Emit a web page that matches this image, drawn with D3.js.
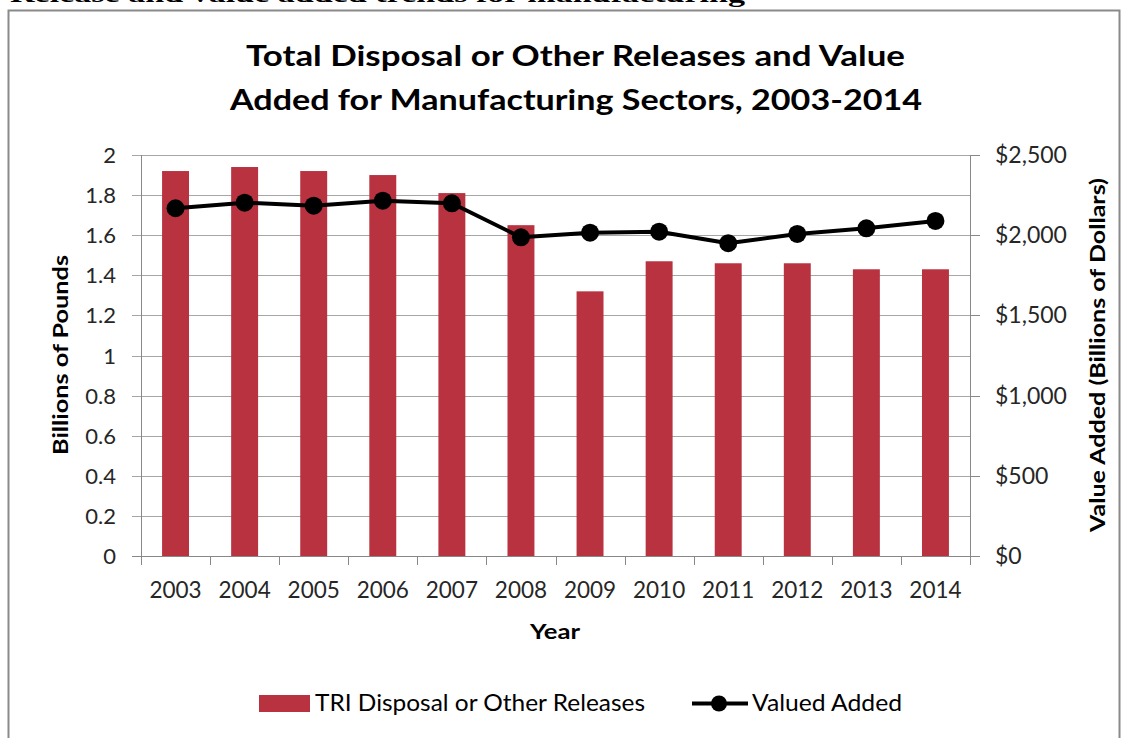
<!DOCTYPE html>
<html><head><meta charset="utf-8">
<script src="https://cdn.jsdelivr.net/npm/d3@7"></script>
<style>body{margin:0;background:#fff}svg{display:block}text{font-family:Lato,"Open Sans",sans-serif}</style>
</head><body>
<script>
const years = ["2003","2004","2005","2006","2007","2008","2009","2010","2011","2012","2013","2014"];
const releases = [1.92,1.94,1.92,1.90,1.81,1.65,1.32,1.47,1.46,1.46,1.43,1.43];
const valueAdded = [2168,2203,2184,2215,2199,1987,2016,2022,1950,2008,2043,2089];
const leftTicks = [0,0.2,0.4,0.6,0.8,1,1.2,1.4,1.6,1.8,2];
const rightTicks = [0,500,1000,1500,2000,2500];

const W=1129,H=738;
const svg=d3.select("body").append("svg").attr("width",W).attr("height",H);
const L=141,R=970,T=155,B=556;
const x=d3.scaleBand().domain(years).range([L,R]).paddingInner(0.61).paddingOuter(0.305);
const yL=d3.scaleLinear().domain([0,2]).range([B,T]);
const yR=d3.scaleLinear().domain([0,2500]).range([B,T]);
const grid="#A6A6A6", axisC="#888";

function fit(sel,w){const n=sel.node();const c=n.getComputedTextLength();if(Math.abs(c-w)>1)sel.attr("textLength",w).attr("lengthAdjust","spacingAndGlyphs");return sel;}

// top cut-off caption
fit(svg.append("text").attr("x",10).attr("y",2).style("font-family","'Liberation Serif',serif").attr("font-weight","bold").attr("font-size",24).attr("fill","#000").text("Release and value added trends for manufacturing"),735);
// border
svg.append("rect").attr("x",8.5).attr("y",10.5).attr("width",1111).attr("height",740).attr("fill","none").attr("stroke","#8a8a8a").attr("stroke-width",2);

// title
fit(svg.append("text").attr("x",246).attr("y",66).attr("font-weight","bold").attr("font-size",28).attr("fill","#000").text("Total Disposal or Other Releases and Value"),659);
fit(svg.append("text").attr("x",230).attr("y",110).attr("font-weight","bold").attr("font-size",28).attr("fill","#000").text("Added for Manufacturing Sectors, 2003-2014"),692);

// gridlines
svg.append("g").selectAll("line").data(leftTicks).join("line")
  .attr("x1",L-9).attr("x2",R).attr("y1",d=>Math.round(yL(d))+0.5).attr("y2",d=>Math.round(yL(d))+0.5)
  .attr("stroke",d=>d===0?axisC:grid).attr("stroke-width",1);
svg.append("line").attr("x1",L+0.5).attr("x2",L+0.5).attr("y1",T).attr("y2",B).attr("stroke",axisC);
svg.append("line").attr("x1",R+0.5).attr("x2",R+0.5).attr("y1",T).attr("y2",B).attr("stroke",axisC);
svg.append("g").selectAll("line").data(rightTicks).join("line")
  .attr("x1",R).attr("x2",R+10).attr("y1",d=>Math.round(yR(d))+0.5).attr("y2",d=>Math.round(yR(d))+0.5).attr("stroke",axisC);
const step=x.step();
const bounds=years.map(y=>x(y)+x.bandwidth()/2-step/2).concat([x(years[years.length-1])+x.bandwidth()/2+step/2]);
svg.append("g").selectAll("line").data(bounds).join("line")
  .attr("x1",d=>Math.round(d)+0.5).attr("x2",d=>Math.round(d)+0.5).attr("y1",B).attr("y2",B+9).attr("stroke",axisC);

// bars
svg.append("g").selectAll("rect").data(years).join("rect")
  .attr("x",y=>x(y)).attr("width",x.bandwidth())
  .attr("y",(y,i)=>yL(releases[i])).attr("height",(y,i)=>B-yL(releases[i]))
  .attr("fill","#B83240");

// line
const pts=years.map((y,i)=>[x(y)+x.bandwidth()/2,yR(valueAdded[i])]);
svg.append("path").attr("d",d3.line()(pts)).attr("fill","none").attr("stroke","#000").attr("stroke-width",4).attr("stroke-linejoin","round");
svg.append("g").selectAll("circle").data(pts).join("circle").attr("cx",d=>d[0]).attr("cy",d=>d[1]).attr("r",9).attr("fill","#000");

// tick labels
const tc="#262626";
svg.append("g").selectAll("text").data(leftTicks).join("text")
  .attr("x",116).attr("y",d=>yL(d)+8).attr("text-anchor","end").attr("font-size",22).attr("fill",tc)
  .text(d=>d3.format("")(+d.toFixed(1)));
svg.append("g").selectAll("text").data(rightTicks).join("text")
  .attr("x",995).attr("y",d=>yR(d)+8).attr("font-size",23).attr("fill",tc)
  .text(d=>"$"+d3.format(",")(d));
svg.append("g").selectAll("text").data(years).join("text")
  .attr("x",y=>x(y)+x.bandwidth()/2).attr("y",598).attr("text-anchor","middle").attr("font-size",22.5).attr("fill",tc).text(y=>y);

// axis titles
fit(svg.append("text").attr("transform","translate(68,355) rotate(-90)").attr("text-anchor","middle").attr("font-weight","bold").attr("font-size",21).attr("fill","#000").text("Billions of Pounds"),200);
fit(svg.append("text").attr("transform","translate(1105,355) rotate(-90)").attr("text-anchor","middle").attr("font-weight","bold").attr("font-size",21).attr("fill","#000").text("Value Added (Billions of Dollars)"),354);
fit(svg.append("text").attr("x",555).attr("y",639).attr("text-anchor","middle").attr("font-weight","bold").attr("font-size",21).attr("fill","#000").text("Year"),50);

// legend
svg.append("rect").attr("x",259).attr("y",695).attr("width",51).attr("height",17).attr("fill","#B83240");
fit(svg.append("text").attr("x",315).attr("y",711).attr("font-size",23).attr("fill","#000").text("TRI Disposal or Other Releases"),330);
svg.append("line").attr("x1",692).attr("x2",748).attr("y1",703.5).attr("y2",703.5).attr("stroke","#000").attr("stroke-width",4);
svg.append("circle").attr("cx",719).attr("cy",703.5).attr("r",8).attr("fill","#000");
fit(svg.append("text").attr("x",752).attr("y",711).attr("font-size",23).attr("fill","#000").text("Valued Added"),150);
</script>
</body></html>
